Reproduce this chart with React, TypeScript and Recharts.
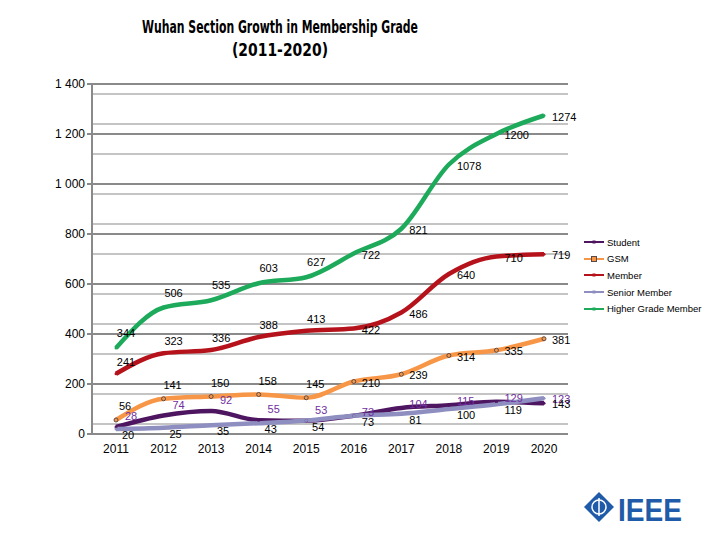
import React from 'react';
import {
  LineChart,
  Line,
  XAxis,
  YAxis,
  CartesianGrid,
  LabelList,
} from 'recharts';

const years = ['2011', '2012', '2013', '2014', '2015', '2016', '2017', '2018', '2019', '2020'];
const student = [28, 74, 92, 55, 53, 73, 104, 115, 129, 123];
const gsm = [56, 141, 150, 158, 145, 210, 239, 314, 335, 381];
const member = [241, 323, 336, 388, 413, 422, 486, 640, 710, 719];
const senior = [20, 25, 35, 43, 54, 73, 81, 100, 119, 143];
const higher = [344, 506, 535, 603, 627, 722, 821, 1078, 1200, 1274];

const yTicks = [0, 200, 400, 600, 800, 1000, 1200, 1400];
const minorLines = Array.from({ length: 36 }, (_, i) => i * 40).filter((v) => v % 200 !== 0);

const data = years.map((year, i) => ({
  year,
  student: student[i],
  gsm: gsm[i],
  member: member[i],
  senior: senior[i],
  higher: higher[i],
}));

const series = [
  { key: 'student', name: 'Student', color: '#4E1560', labelColor: '#7030A0', early: [15, -11], late: [8, -4] },
  { key: 'gsm', name: 'GSM', color: '#F79646', labelColor: '#000', early: [9, -14], late: [8, 1] },
  { key: 'member', name: 'Member', color: '#B5121B', labelColor: '#000', early: [10, -12], late: [8, 1] },
  { key: 'senior', name: 'Senior Member', color: '#8E8EC0', labelColor: '#000', early: [12, 6], late: [8, 6] },
  { key: 'higher', name: 'Higher Grade Member', color: '#1DAA5B', labelColor: '#000', early: [10, -15], late: [8, 1] },
];

const fmt = (v: number) => (v >= 1000 ? `${Math.floor(v / 1000)} ${String(v % 1000).padStart(3, '0')}` : String(v));

const makeLabel = (s: (typeof series)[number]) => (props: any) => {
  const { x, y, value, index } = props;
  const early = index < 5;
  const [dx, dy] = early ? s.early : s.late;
  return (
    <text
      x={x + dx}
      y={y + dy}
      fill={s.labelColor}
      fontSize={11}
      fontFamily="Liberation Sans, Arial, sans-serif"
      textAnchor={early ? 'middle' : 'start'}
      dominantBaseline="central"
    >
      {value}
    </text>
  );
};

const LegendBox = () => (
  <div style={{ fontFamily: 'Liberation Sans, Arial, sans-serif', fontSize: 9.5 }}>
    {series.map((s) => (
      <div key={s.key} style={{ display: 'flex', alignItems: 'center', height: 16.6 }}>
        <svg width={20} height={8} style={{ marginRight: 3 }}>
          <line x1={0} y1={4} x2={20} y2={4} stroke={s.color} strokeWidth={2} />
          {s.key === 'gsm' ? (
            <rect x={7.5} y={1.5} width={5} height={5} fill="#F79646" stroke="#5a4a4a" strokeWidth={1} />
          ) : (
            <rect x={8.5} y={2.5} width={3} height={3} fill={s.color} />
          )}
        </svg>
        <span>{s.name}</span>
      </div>
    ))}
  </div>
);

export default function App() {
  return (
    <div style={{ position: 'absolute', left: 0, top: 0, width: 720, height: 540, background: '#fff' }}>
      <svg width={720} height={70} style={{ position: 'absolute', left: 0, top: 0 }}>
        <text
          x={142}
          y={33}
          fontFamily="DejaVu Sans, sans-serif"
          fontWeight="bold"
          fontSize={17}
          textLength={276}
          lengthAdjust="spacingAndGlyphs"
        >
          Wuhan Section Growth in Membership Grade
        </text>
        <text
          x={232}
          y={56}
          fontFamily="DejaVu Sans, sans-serif"
          fontWeight="bold"
          fontSize={17}
          textLength={96}
          lengthAdjust="spacingAndGlyphs"
        >
          (2011-2020)
        </text>
      </svg>
      <div style={{ position: 'absolute', left: 0, top: 0 }}>
        <LineChart width={720} height={540} data={data} margin={{ top: 84, right: 152, left: 32, bottom: 76 }}>
          <CartesianGrid horizontal vertical={false} horizontalValues={minorLines} stroke="#c4c4c4" strokeWidth={2} />
          <CartesianGrid horizontal vertical={false} horizontalValues={yTicks} stroke="#8a8a8a" strokeWidth={2} />
          <XAxis
            dataKey="year"
            padding={{ left: 24, right: 24 }}
            tickLine={false}
            axisLine={{ stroke: '#8a8a8a', strokeWidth: 2 }}
            tick={{ fill: '#000', fontSize: 12, fontFamily: 'Liberation Sans, Arial, sans-serif' }}
            tickMargin={4}
            height={30}
          />
          <YAxis
            width={60}
            domain={[0, 1400]}
            ticks={yTicks}
            tickFormatter={fmt}
            axisLine={{ stroke: '#8a8a8a', strokeWidth: 2 }}
            tickLine={{ stroke: '#8a8a8a', strokeWidth: 2 }}
            tickSize={5}
            tick={{ fill: '#000', fontSize: 12, fontFamily: 'Liberation Sans, Arial, sans-serif' }}
          />
          {series.map((s) => (
            <Line
              key={s.key}
              type="monotone"
              dataKey={s.key}
              name={s.name}
              stroke={s.color}
              strokeWidth={4.5}
              isAnimationActive={false}
              dot={
                s.key === 'gsm'
                  ? { r: 2, fill: '#F79646', stroke: '#5a4a4a', strokeWidth: 1 }
                  : { r: 1.5, fill: s.color, stroke: 'none' }
              }
            >
              <LabelList dataKey={s.key} content={makeLabel(s)} />
            </Line>
          ))}
        </LineChart>
      </div>
      <div style={{ position: 'absolute', left: 584, top: 234, width: 136 }}>
        <LegendBox />
      </div>
      <svg width={120} height={40} style={{ position: 'absolute', left: 582, top: 490 }}>
        <polygon points="17,2 32,17 17,32 2,17" fill="#1F5BA8" />
        <circle cx={17} cy={17} r={7} fill="none" stroke="#fff" strokeWidth={1.5} />
        <line x1={17} y1={8} x2={17} y2={26} stroke="#fff" strokeWidth={1.5} />
        <text x={36} y={31} fill="#1F5BA8" fontFamily="Liberation Sans, Arial, sans-serif" fontWeight="bold" fontSize={31} textLength={64} lengthAdjust="spacingAndGlyphs">
          IEEE
        </text>
      </svg>
    </div>
  );
}
